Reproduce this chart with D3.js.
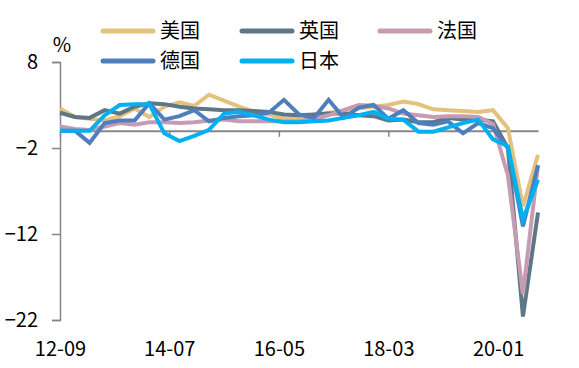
<!DOCTYPE html>
<html><head><meta charset="utf-8">
<script src="https://cdn.jsdelivr.net/npm/d3@7"></script>
<style>
body{margin:0;background:#fff;}
svg{display:block;font-family:"Noto Sans CJK SC","Noto Sans",sans-serif;}
</style></head>
<body><svg id="c" width="579" height="368"></svg>
<script>
// quarterly dates 2012-09 .. 2020-09
const quarters = ["2012-09","2012-12","2013-03","2013-06","2013-09","2013-12","2014-03","2014-06","2014-09","2014-12",
"2015-03","2015-06","2015-09","2015-12","2016-03","2016-06","2016-09","2016-12","2017-03","2017-06","2017-09","2017-12",
"2018-03","2018-06","2018-09","2018-12","2019-03","2019-06","2019-09","2019-12","2020-03","2020-06","2020-09"];
const seriesNames = ["美国","英国","法国","德国","日本"];
const usValues = [2.6,1.6,1.4,1.2,1.7,2.6,1.6,2.8,3.3,2.9,4.2,3.5,2.8,2.2,1.9,1.4,1.5,1.8,2.1,2.3,2.6,2.8,3.0,3.4,3.1,2.5,2.4,2.3,2.2,2.4,0.3,-8.8,-2.8];
const ukValues = [2.1,1.6,1.5,2.4,2.0,2.8,3.2,3.1,2.8,2.6,2.5,2.4,2.4,2.3,2.2,1.9,1.8,1.9,2.0,2.0,1.8,1.7,1.2,1.3,1.0,1.0,1.5,1.3,1.3,1.1,-2.0,-21.6,-9.5];
const frValues = [0.5,0.2,0.1,0.5,0.9,0.7,1.0,1.0,0.9,1.0,1.2,1.3,1.1,1.1,1.1,1.1,1.1,1.4,1.8,2.4,3.0,2.9,2.6,2.0,1.8,1.6,1.7,1.7,1.6,0.8,-5.2,-19.0,-4.0];
const deValues = [0.0,0.0,-1.4,0.9,1.2,1.2,3.2,1.3,1.7,2.4,1.1,1.5,1.7,1.8,2.1,3.6,1.9,1.5,3.6,1.5,2.7,3.0,1.4,2.4,0.9,0.7,1.1,-0.3,0.9,0.3,-2.0,-11.1,-4.0];
const jpValues = [0.0,0.0,0.0,1.8,3.0,3.1,3.1,-0.3,-1.2,-0.6,0.1,2.0,2.2,1.8,1.3,1.0,1.0,1.1,1.2,1.5,1.8,2.2,1.4,1.3,-0.1,-0.1,0.4,0.9,1.3,-1.0,-1.8,-10.3,-5.7];
const seriesColors = ["#E2C27E","#5E7786","#C69CB2","#4E7EBE","#00B0F0"];
const yTicks = [8,-2,-12,-22];
const xTickLabels = ["2012-09","2014-07","2016-05","2018-03","2020-01"];

const parse = d3.timeParse("%Y-%m");
const dates = quarters.map(parse);
const allValues = [usValues,ukValues,frValues,deValues,jpValues];

const svg = d3.select("#c");
const x = d3.scaleTime().domain([dates[0], dates[dates.length-1]]).range([60, 538]);
const y = d3.scaleLinear().domain([-22, 8]).range([320, 62]);
const axisColor = "#868686";

// y axis
const ya = svg.append("g").attr("transform","translate(60,0)")
  .call(d3.axisLeft(y).tickValues(yTicks).tickSize(8).tickPadding(14).tickFormat(d3.format("d")));
ya.select(".domain").attr("stroke",axisColor).attr("stroke-width",1.5);
ya.selectAll(".tick line").attr("stroke",axisColor).attr("stroke-width",1.5);
ya.selectAll(".tick text").attr("font-size",20).attr("fill","#000").attr("font-family","'Noto Sans CJK SC',sans-serif");

// x axis on zero line
const xa = svg.append("g").attr("transform",`translate(0,${y(0)})`)
  .call(d3.axisBottom(x).tickValues(xTickLabels.map(parse)).tickSize(6).tickSizeOuter(0).tickPadding(205).tickFormat(d3.timeFormat("%y-%m")));
xa.select(".domain").attr("stroke",axisColor).attr("stroke-width",2);
xa.selectAll(".tick line").attr("stroke",axisColor).attr("stroke-width",1.5);
xa.selectAll(".tick text").attr("font-size",20).attr("fill","#000").attr("font-family","'Noto Sans CJK SC',sans-serif");

// % label
svg.append("text").attr("x",62).attr("y",52).attr("text-anchor","middle").attr("font-size",20).text("%");

// lines
const line = d3.line().x((d,i)=>x(dates[i])).y(d=>y(d));
allValues.forEach((vals,k)=>{
  svg.append("path").datum(vals).attr("d",line).attr("fill","none")
    .attr("stroke",seriesColors[k]).attr("stroke-width",4).attr("stroke-linejoin","miter");
});

// legend
const legPos = [[101,31],[240,31],[378,31],[101,61],[240,61]];
seriesNames.forEach((n,k)=>{
  const [lx,ly] = legPos[k];
  svg.append("line").attr("x1",lx+2).attr("x2",lx+52).attr("y1",ly).attr("y2",ly)
    .attr("stroke",seriesColors[k]).attr("stroke-width",5).attr("stroke-linecap","round");
  svg.append("text").attr("x",lx+59).attr("y",ly).attr("dy","0.35em").attr("font-size",20).text(n);
});
</script></body></html>
